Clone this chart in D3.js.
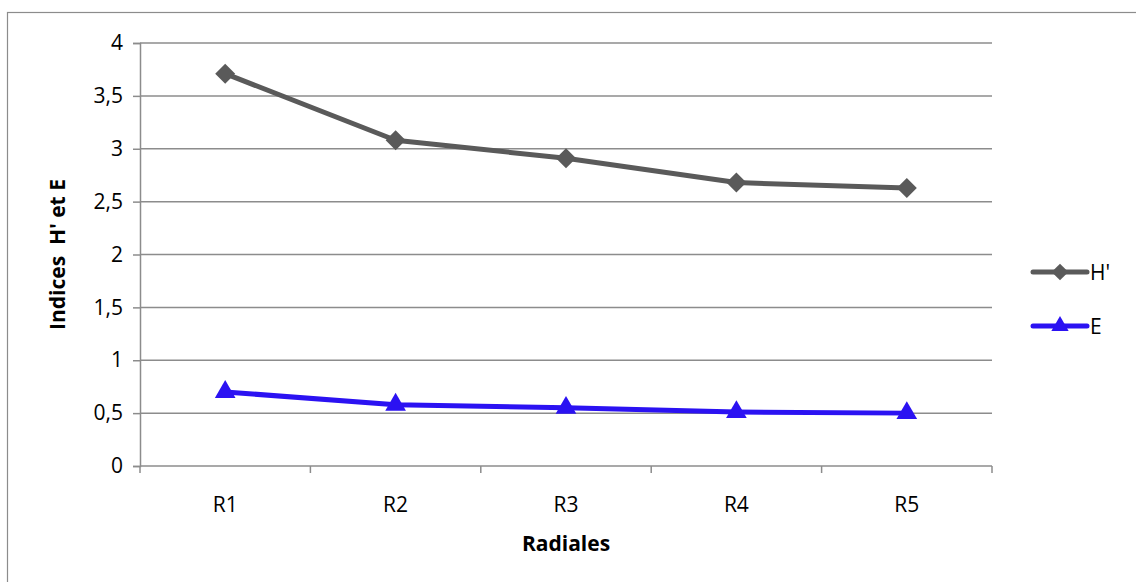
<!DOCTYPE html>
<html>
<head>
<meta charset="utf-8">
<script src="https://cdn.jsdelivr.net/npm/d3@7"></script>
<style>
  body { margin: 0; background: #fff; }
  svg { display: block; font-family: "Open Sans", sans-serif; }
</style>
</head>
<body>
<div id="chart"></div>
<script>
const categories = ["R1", "R2", "R3", "R4", "R5"];
const hValues = [3.71, 3.08, 2.91, 2.68, 2.63];
const eValues = [0.70, 0.58, 0.55, 0.51, 0.50];
const yTicks = [0, 0.5, 1, 1.5, 2, 2.5, 3, 3.5, 4];
const seriesNames = ["H'", "E"];

const W = 1136, H = 582;
const margin = { top: 43, right: 144, bottom: 116, left: 140 };
const width = W - margin.left - margin.right;
const height = H - margin.top - margin.bottom;

const svg = d3.select("#chart").append("svg")
  .attr("width", W)
  .attr("height", H);

// outer chart border (only left and top fall inside the picture)
svg.append("rect")
  .attr("x", 7.5).attr("y", 12.5)
  .attr("width", W + 20).attr("height", H + 20)
  .attr("fill", "none")
  .attr("stroke", "#8c8c8c")
  .attr("stroke-width", 1.2);

const g = svg.append("g")
  .attr("transform", `translate(${margin.left},${margin.top})`);

const x = d3.scaleBand().domain(categories).range([0, width]);
const y = d3.scaleLinear().domain([0, 4]).range([height, 0]);

// gridlines
g.selectAll(".grid")
  .data(yTicks.filter(d => d > 0))
  .enter().append("line")
  .attr("x1", 0).attr("x2", width)
  .attr("y1", d => y(d)).attr("y2", d => y(d))
  .attr("stroke", "#8c8c8c")
  .attr("stroke-width", 1.5);

const fmt = d => String(d).replace(".", ",");

const yAxis = g.append("g")
  .call(d3.axisLeft(y).tickValues(yTicks).tickFormat(fmt).tickSize(7).tickPadding(10));
yAxis.select(".domain").attr("stroke", "#8c8c8c").attr("stroke-width", 1.5);
yAxis.selectAll(".tick line").attr("stroke", "#8c8c8c").attr("stroke-width", 1.5);
yAxis.selectAll("text").attr("font-size", 21).attr("fill", "#000")
  .attr("font-family", "'Open Sans', sans-serif");

// x axis with tick marks at band boundaries
const xAxis = g.append("g").attr("transform", `translate(0,${height})`);
xAxis.append("line")
  .attr("x1", 0).attr("x2", width)
  .attr("stroke", "#8c8c8c").attr("stroke-width", 1.5);
const bounds = categories.map(c => x(c)).concat([width]);
xAxis.selectAll(".xt")
  .data(bounds)
  .enter().append("line")
  .attr("x1", d => d).attr("x2", d => d)
  .attr("y1", 0).attr("y2", 7)
  .attr("stroke", "#8c8c8c").attr("stroke-width", 1.5);
xAxis.selectAll(".xl")
  .data(categories)
  .enter().append("text")
  .attr("x", d => x(d) + x.bandwidth() / 2)
  .attr("y", 46)
  .attr("text-anchor", "middle")
  .attr("font-size", 21)
  .text(d => d);

// axis titles
svg.append("text")
  .attr("x", margin.left + width / 2)
  .attr("y", 551)
  .attr("text-anchor", "middle")
  .attr("font-size", 21)
  .attr("font-weight", "bold")
  .text("Radiales");

svg.append("text")
  .attr("transform", `translate(65,${margin.top + height / 2}) rotate(-90)`)
  .attr("text-anchor", "middle")
  .attr("font-size", 21)
  .attr("font-weight", "bold")
  .attr("xml:space", "preserve")
  .style("white-space", "pre")
  .text("Indices  H' et E");

const cx = d => x(d) + x.bandwidth() / 2;
const line = d3.line().x((d, i) => cx(categories[i])).y(d => y(d));

const series = [
  { name: seriesNames[0], values: hValues, color: "#5a5a5a", symbol: d3.symbolSquare, rot: 45, size: 200 },
  { name: seriesNames[1], values: eValues, color: "#2b12f2", symbol: d3.symbolTriangle, rot: 0, size: 185 }
];

series.forEach(s => {
  g.append("path")
    .datum(s.values)
    .attr("fill", "none")
    .attr("stroke", s.color)
    .attr("stroke-width", 5)
    .attr("stroke-linejoin", "round")
    .attr("d", line);
  g.selectAll(null)
    .data(s.values)
    .enter().append("path")
    .attr("transform", (d, i) => `translate(${cx(categories[i])},${y(d)}) rotate(${s.rot})`)
    .attr("d", d3.symbol().type(s.symbol).size(s.size))
    .attr("fill", s.color);
});

// legend
const legend = svg.append("g").attr("transform", "translate(1033,272)");
series.forEach((s, i) => {
  const row = legend.append("g").attr("transform", `translate(0,${i * 54})`);
  row.append("line")
    .attr("x1", 0).attr("x2", 54)
    .attr("stroke", s.color).attr("stroke-width", 5)
    .attr("stroke-linecap", "round");
  row.append("path")
    .attr("transform", `translate(27,0) rotate(${s.rot})`)
    .attr("d", d3.symbol().type(s.symbol).size(s.size * 0.7))
    .attr("fill", s.color);
  row.append("text")
    .attr("x", 57).attr("y", 8)
    .attr("font-size", 21)
    .text(s.name);
});
</script>
</body>
</html>
